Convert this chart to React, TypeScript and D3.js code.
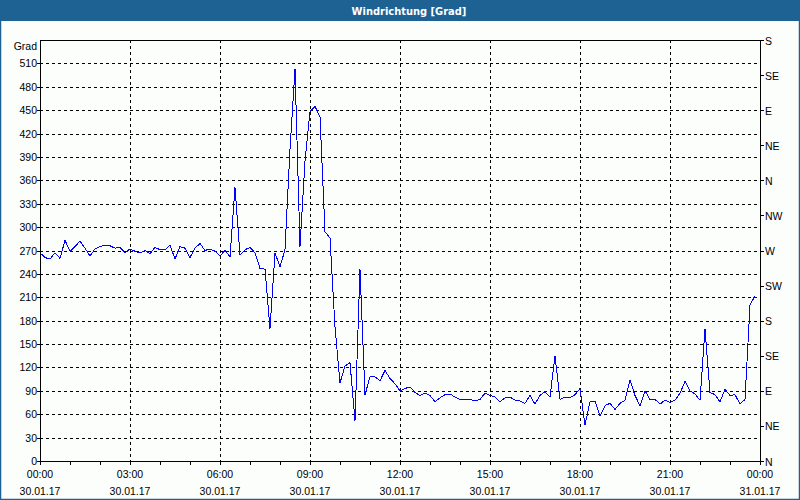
import React from "react";
import * as d3 from "d3";

const TITLE = "Windrichtung [Grad]";
const Y_UNIT = "Grad";
const DATE_LABELS = ["30.01.17", "30.01.17", "30.01.17", "30.01.17", "30.01.17", "30.01.17", "30.01.17", "30.01.17", "31.01.17"];
const TIME_LABELS = ["00:00", "03:00", "06:00", "09:00", "12:00", "15:00", "18:00", "21:00", "00:00"];
const LEFT_TICKS = [0, 30, 60, 90, 120, 150, 180, 210, 240, 270, 300, 330, 360, 390, 420, 450, 480, 510];
const RIGHT_TICKS = [0, 45, 90, 135, 180, 225, 270, 315, 360, 405, 450, 495, 540];
const RIGHT_LABELS = ["N", "NE", "E", "SE", "S", "SW", "W", "NW", "N", "NE", "E", "SE", "S"];
const STEP_MIN = 10;
// wind direction in degrees, every 10 minutes from 30.01.17 00:00
const VALUES = [
  267, 261, 259, 267, 260, 283, 269, 275, 282, 273,
  263, 272, 275, 277, 276, 273, 274, 267, 272, 269,
  267, 270, 266, 274, 271, 271, 277, 259, 275, 273,
  261, 273, 279, 270, 272, 269, 263, 270, 262, 351,
  264, 271, 274, 267, 247, 246, 170, 267, 249, 271,
  400, 503, 275, 385, 448, 455, 441, 294, 286, 172,
  100, 122, 126, 52, 246, 85, 108, 108, 103, 116,
  106, 99, 90, 93, 95, 88, 84, 87, 84, 76,
  81, 85, 86, 82, 79, 79, 79, 77, 79, 87,
  84, 82, 76, 81, 82, 78, 77, 74, 84, 73,
  84, 89, 82, 135, 79, 82, 81, 85, 93, 46,
  76, 77, 58, 71, 74, 66, 74, 78, 104, 84,
  71, 90, 79, 79, 73, 78, 75, 78, 87, 102,
  90, 86, 78, 169, 88, 85, 76, 92, 84, 85,
  73, 79, 200, 212,
];

const W = 800;
const H = 500;
const L = 40, R = 760, T = 40, B = 461;
const FONT = "'Liberation Sans', Arial, sans-serif";

export default function App() {
  const x = d3.scaleLinear().domain([0, 24 * 60]).range([L, R]);
  const y = d3.scaleLinear().domain([0, 540]).range([B, T]);
  const line = d3
    .line<number>()
    .x((_, i) => x(i * STEP_MIN))
    .y((d) => y(d));
  const snap = (v: number) => Math.round(v) + 0.5;
  const majorHours = d3.range(0, 25, 3);
  const minorHours = d3.range(0, 25, 1);

  return (
    <div style={{ position: "fixed", left: 0, top: 0 }}>
      <svg width={W} height={H} style={{ display: "block" }}>
        <rect x={0} y={0} width={W} height={H} fill="#fcfefc" />
        <rect x={0.5} y={0.5} width={W - 1} height={H - 1} fill="none" stroke="#1e6294" strokeWidth={1.5} />
        <rect x={0} y={0} width={W} height={21} fill="#1e6294" />
        <text x={409} y={15} textAnchor="middle" fill="#ffffff" fontFamily="'DejaVu Sans Condensed', 'DejaVu Sans', sans-serif" fontWeight="bold" fontSize={11}>
          {TITLE}
        </text>

        {/* grid */}
        <g stroke="#000" strokeDasharray="3,3" shapeRendering="crispEdges">
          {LEFT_TICKS.filter((v) => v > 0).map((v) => (
            <line key={"h" + v} x1={L} x2={R} y1={snap(y(v))} y2={snap(y(v))} />
          ))}
          {majorHours.filter((h) => h > 0 && h < 24).map((h) => (
            <line key={"v" + h} x1={snap(x(h * 60))} x2={snap(x(h * 60))} y1={T} y2={B} />
          ))}
        </g>

        {/* data */}
        <path d={line(VALUES) || ""} fill="none" stroke="#0000ff" strokeWidth={1} shapeRendering="crispEdges" />

        {/* frame */}
        <g stroke="#000" shapeRendering="crispEdges" fill="none">
          <rect x={snap(L)} y={snap(T)} width={R - L} height={B - T} />
          {LEFT_TICKS.map((v) => (
            <line key={"lt" + v} x1={L - 3} x2={L} y1={snap(y(v))} y2={snap(y(v))} />
          ))}
          {RIGHT_TICKS.map((v) => (
            <line key={"rt" + v} x1={R} x2={R + 4} y1={snap(y(v))} y2={snap(y(v))} />
          ))}
          {minorHours.map((h) => (
            <line key={"bt" + h} x1={snap(x(h * 60))} x2={snap(x(h * 60))} y1={B} y2={B + 4} />
          ))}
        </g>

        {/* labels */}
        <g fontFamily={FONT} fontSize={10.5} fill="#000">
          <text x={37} y={50} textAnchor="end">{Y_UNIT}</text>
          {LEFT_TICKS.map((v) => (
            <text key={"ll" + v} x={37} y={y(v) + 4} textAnchor="end">{v}</text>
          ))}
          {RIGHT_TICKS.map((v, i) => (
            <text key={"rl" + v} x={765} y={y(v) + 4.5}>{RIGHT_LABELS[i]}</text>
          ))}
          {majorHours.map((h, i) => (
            <g key={"xl" + h}>
              <text x={x(h * 60)} y={478} textAnchor="middle">{TIME_LABELS[i]}</text>
              <text x={x(h * 60)} y={495} textAnchor="middle">{DATE_LABELS[i]}</text>
            </g>
          ))}
        </g>
      </svg>
    </div>
  );
}
